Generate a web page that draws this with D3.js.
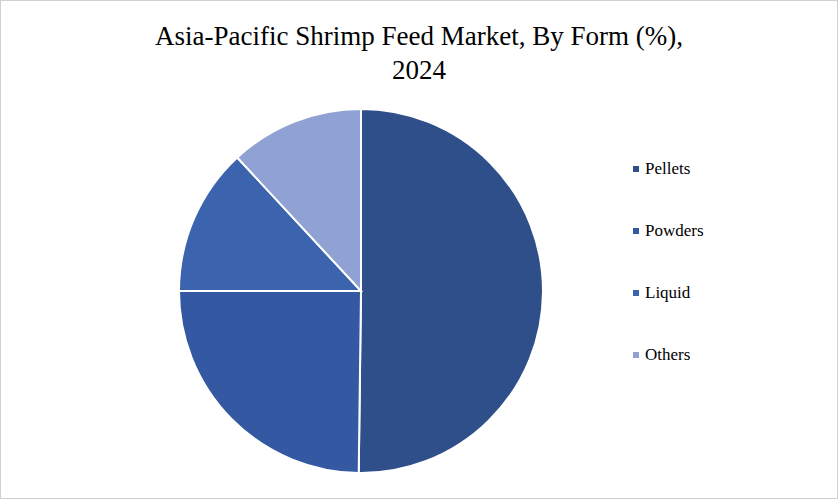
<!DOCTYPE html>
<html><head><meta charset="utf-8">
<script src="https://cdn.jsdelivr.net/npm/d3@7"></script>
<style>body{margin:0;background:#fff}</style></head>
<body><svg id="c" width="838" height="499"></svg>
<script>
const categories = ["Pellets","Powders","Liquid","Others"];
const values = [50.2, 24.8, 13.1, 11.9];
const colors = ["#2f4f8a","#3459a2","#3b63ae","#8fa2d3"];
const svg = d3.select("#c");
svg.append("rect").attr("x",0.5).attr("y",0.5).attr("width",837).attr("height",498).attr("fill","#fff").attr("stroke","#d0d0d0");
svg.append("text").attr("x",419).attr("y",45).attr("text-anchor","middle").attr("font-family","Liberation Serif, serif").attr("font-size",27).attr("fill","#000").text("Asia-Pacific Shrimp Feed Market, By Form (%),");
svg.append("text").attr("x",419).attr("y",79).attr("text-anchor","middle").attr("font-family","Liberation Serif, serif").attr("font-size",27).attr("fill","#000").text("2024");
const pie = d3.pie().sort(null)(values);
const arc = d3.arc().innerRadius(0).outerRadius(182);
const g = svg.append("g").attr("transform","translate(361,291)");
g.selectAll("path").data(pie).join("path").attr("d",arc).attr("fill",(d,i)=>colors[i]).attr("stroke","#fff").attr("stroke-width",2);
const lg = svg.append("g");
categories.forEach((c,i)=>{
  const y = 169 + i*62;
  lg.append("rect").attr("x",633).attr("y",y-3).attr("width",6).attr("height",6).attr("fill",colors[i]);
  lg.append("text").attr("x",645).attr("y",y+5).attr("font-family","Liberation Serif, serif").attr("font-size",17).attr("fill","#000").text(c);
});
</script></body></html>
